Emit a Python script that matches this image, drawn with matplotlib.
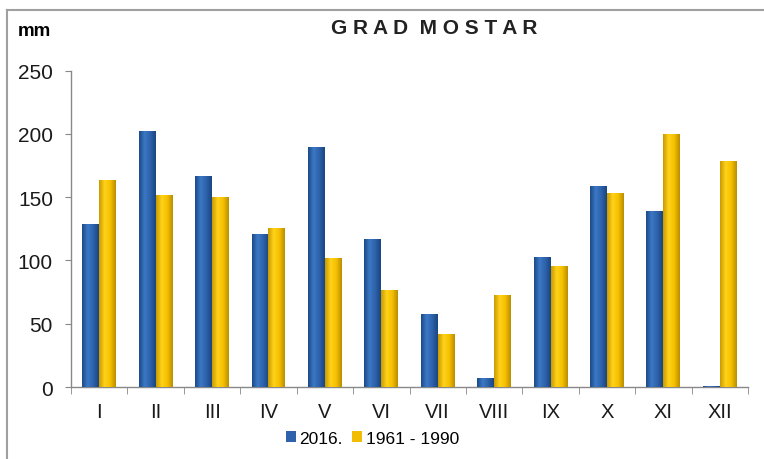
import numpy as np
import matplotlib.pyplot as plt
from matplotlib.colors import LinearSegmentedColormap
from matplotlib.lines import Line2D

plt.rcParams['font.family'] = ['Liberation Sans', 'DejaVu Sans']

# data
months = ['I', 'II', 'III', 'IV', 'V', 'VI', 'VII', 'VIII', 'IX', 'X', 'XI', 'XII']
rain_2016 = [129, 202, 167, 121, 190, 117, 58, 7, 103, 159, 139, 0.5]
rain_norm = [164, 152, 150, 126, 102, 77, 42, 73, 96, 153, 200, 179]
y_ticks = [0, 50, 100, 150, 200, 250]

fig = plt.figure(figsize=(7.64, 4.6), dpi=100)
ax = fig.add_axes([0.093, 0.1565, 0.886, 0.6876])

x = np.arange(len(months))
w = 0.3
blue_bars = ax.bar(x - w / 2, rain_2016, w, color='#2E63AB', zorder=2)
yel_bars = ax.bar(x + w / 2, rain_norm, w, color='#F2BC00', zorder=2)

# cylinder-like shading
blue_cmap = LinearSegmentedColormap.from_list('b', ['#1C4A88', '#3C78C6', '#2D62AA', '#1A4580'])
yel_cmap = LinearSegmentedColormap.from_list('y', ['#C99A00', '#FFD21A', '#F6C000', '#B98E00'])
grad = np.linspace(0, 1, 64).reshape(1, -1)
for bars, cm in [(blue_bars, blue_cmap), (yel_bars, yel_cmap)]:
    for b in bars:
        x0, y0 = b.get_x(), b.get_y()
        bw, bh = b.get_width(), b.get_height()
        im = ax.imshow(grad, cmap=cm, aspect='auto', extent=[x0, x0 + bw, y0, y0 + bh],
                       zorder=3, interpolation='bilinear')
        im.set_clip_path(b)

ax.set_xlim(-0.5, 11.5)
ax.set_ylim(0, 250)
ax.set_yticks(y_ticks)
ax.set_xticks(x)
ax.set_xticklabels(months)
ax.set_xticks(np.arange(-0.5, 12, 1), minor=True)
ax.tick_params(axis='x', which='major', length=0, pad=11, labelsize=14.5, colors='#1a1a1a')
ax.tick_params(axis='x', which='minor', length=5, color='#888888')
ax.tick_params(axis='y', length=4, color='#888888', labelsize=15, labelcolor='#1a1a1a', pad=9)

for s in ['top', 'right']:
    ax.spines[s].set_visible(False)
for s in ['left', 'bottom']:
    ax.spines[s].set_color('#888888')
    ax.spines[s].set_linewidth(1)

fig.text(0.023, 0.932, 'mm', fontsize=13.5, fontweight='bold', ha='left', va='center')
fig.text(0.568, 0.937, 'G R A D  M O S T A R', fontsize=15, fontweight='bold',
         ha='center', va='center', color='#222222')

leg = ax.legend([blue_bars, yel_bars], ['2016.', '1961 - 1990'], loc='upper center',
                bbox_to_anchor=(0.445, -0.09), ncol=2, frameon=False, fontsize=12.5,
                handlelength=0.6, handleheight=0.6, handletextpad=0.2, columnspacing=0.5)

# outer frame
fig.add_artist(Line2D([0.009, 0.009], [0, 0.976], color='#A0A0A0', lw=1.5))
fig.add_artist(Line2D([0.009, 1.0], [0.976, 0.976], color='#A0A0A0', lw=1.5))

fig.savefig('out.png', dpi=100)
